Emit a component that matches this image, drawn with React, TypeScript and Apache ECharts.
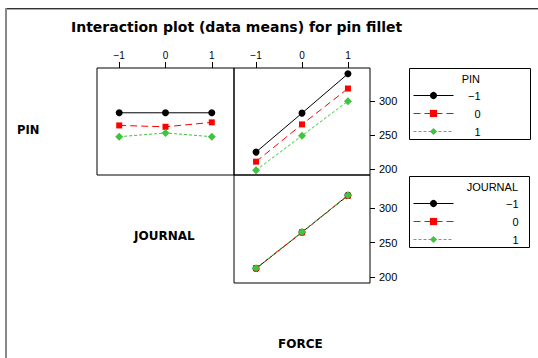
import React, { useEffect, useRef } from 'react';
import * as echarts from 'echarts';

const levels = [-1, 0, 1];
const levelNames = ['−1', '0', '1'];
const yTicks = [200, 250, 300];

// PIN means at each JOURNAL level
const pinM1ByJournal = [282.5, 282.5, 282.5];
const pin0ByJournal = [264, 262, 268.5];
const pin1ByJournal = [247.5, 253, 247.5];

// PIN means at each FORCE level
const pinM1ByForce = [225, 282, 339.5];
const pin0ByForce = [211, 265.5, 318];
const pin1ByForce = [198.5, 249, 299.5];

// JOURNAL means at each FORCE level
const journalM1ByForce = [212.5, 265, 318.5];
const journal0ByForce = [213, 265, 318];
const journal1ByForce = [213, 265.5, 318.5];

const FONT = 'Liberation Sans, Arial, Helvetica, sans-serif';
const BOLDFONT = 'DejaVu Sans, sans-serif';
const COLORS = ['#000000', '#ff0000', '#3ec43e'];
const DASHES: any[] = ['solid', [7, 4], [3, 2]];
const SYMBOLS = ['circle', 'rect', 'diamond'];
const SIZES = [7, 6, 8];

const fmt = (v: number) => (v < 0 ? '−' + Math.abs(v) : String(v));

function mkSeries(name: string, idx: number, vals: number[], axisIndex: number) {
  return {
    type: 'line',
    name,
    xAxisIndex: axisIndex,
    yAxisIndex: axisIndex,
    data: levels.map((x, i) => [x, vals[i]]),
    symbol: SYMBOLS[idx],
    symbolSize: SIZES[idx],
    showSymbol: true,
    lineStyle: { color: COLORS[idx], width: 1, type: DASHES[idx] },
    itemStyle: { color: COLORS[idx] },
    emphasis: { disabled: true },
    z: 2 + idx,
  };
}

export default function App() {
  const ref = useRef<HTMLDivElement>(null);
  useEffect(() => {
    if (!ref.current) return;
    const chart = echarts.init(ref.current, undefined, { renderer: 'svg' });
    const yMin = 191.5;
    const yMax = 348;
    const xAxisBase = (idx: number, showLabels: boolean) => ({
      type: 'value',
      gridIndex: idx,
      min: -1.48,
      max: 1.48,
      position: 'top',
      axisLine: { show: false, onZero: false },
      splitLine: { show: false },
      axisTick: {
        show: showLabels,
        customValues: levels,
        length: 6,
        lineStyle: { color: '#000' },
      },
      axisLabel: {
        show: showLabels,
        customValues: levels,
        formatter: fmt,
        margin: 8,
        color: '#000',
        fontSize: 10,
        fontFamily: FONT,
      },
    });
    const yAxisBase = (idx: number, show: boolean) => ({
      type: 'value',
      gridIndex: idx,
      min: yMin,
      max: yMax,
      position: 'right',
      axisLine: { show: false, onZero: false },
      splitLine: { show: false },
      axisTick: {
        show,
        customValues: yTicks,
        length: 5,
        lineStyle: { color: '#000' },
      },
      axisLabel: {
        show,
        customValues: yTicks,
        margin: 9,
        color: '#000',
        fontSize: 11,
        fontFamily: FONT,
      },
    });
    const legendBase = (top: number, width: number) => ({
      show: true,
      left: 413,
      top,
      orient: 'vertical',
      data: levelNames,
      selectedMode: false,
      itemWidth: 40,
      itemHeight: 9,
      itemGap: 7,
      padding: 0,
      lineStyle: { width: 1 },
      formatter: (n: string) => `{r|${n}}`,
      textStyle: {
        color: '#000',
        fontFamily: FONT,
        fontSize: 11,
        rich: { r: { width, align: 'right', fontSize: 11, lineHeight: 10, fontFamily: FONT } },
      },
    });
    const gridStyle = { show: true, borderColor: '#000', borderWidth: 1, backgroundColor: 'transparent' };
    chart.setOption({
      animation: false,
      backgroundColor: '#fff',
      title: {
        text: 'Interaction plot (data means) for pin fillet',
        left: 71,
        top: 20,
        padding: 0,
        textStyle: { fontSize: 14, fontWeight: 'bold', color: '#000', fontFamily: BOLDFONT },
      },
      grid: [
        { left: 97, top: 68, width: 137, height: 107, ...gridStyle },
        { left: 234, top: 68, width: 136, height: 107, ...gridStyle },
        { left: 234, top: 175, width: 136, height: 108, ...gridStyle },
      ],
      xAxis: [xAxisBase(0, true), xAxisBase(1, true), xAxisBase(2, false)],
      yAxis: [yAxisBase(0, false), yAxisBase(1, true), yAxisBase(2, true)],
      legend: [legendBase(90, 22), legendBase(198, 60)],
      series: [
        mkSeries(levelNames[0], 0, pinM1ByJournal, 0),
        mkSeries(levelNames[1], 1, pin0ByJournal, 0),
        mkSeries(levelNames[2], 2, pin1ByJournal, 0),
        mkSeries(levelNames[0], 0, pinM1ByForce, 1),
        mkSeries(levelNames[1], 1, pin0ByForce, 1),
        mkSeries(levelNames[2], 2, pin1ByForce, 1),
        mkSeries(levelNames[0], 0, journalM1ByForce, 2),
        mkSeries(levelNames[1], 1, journal0ByForce, 2),
        mkSeries(levelNames[2], 2, journal1ByForce, 2),
      ],
      graphic: [
        { type: 'line', shape: { x1: 5, y1: 8.5, x2: 538, y2: 8.5 }, style: { stroke: '#333', lineWidth: 1 }, silent: true },
        { type: 'line', shape: { x1: 5, y1: 9.5, x2: 538, y2: 9.5 }, style: { stroke: '#aaa', lineWidth: 1 }, silent: true },
        { type: 'line', shape: { x1: 6, y1: 8, x2: 6, y2: 358 }, style: { stroke: '#888', lineWidth: 2 }, silent: true },
        { type: 'rect', shape: { x: 409.5, y: 68.5, width: 121, height: 71 }, style: { fill: 'transparent', stroke: '#000', lineWidth: 1 }, silent: true },
        { type: 'rect', shape: { x: 409.5, y: 176.5, width: 120, height: 71 }, style: { fill: 'transparent', stroke: '#000', lineWidth: 1 }, silent: true },
        { type: 'text', x: 480, y: 78.5, style: { text: 'PIN', fill: '#000', font: `11px ${FONT}`, align: 'right', verticalAlign: 'middle' }, silent: true },
        { type: 'text', x: 518, y: 186.5, style: { text: 'JOURNAL', fill: '#000', font: `11px ${FONT}`, align: 'right', verticalAlign: 'middle' }, silent: true },
        { type: 'text', x: 17, y: 129.5, style: { text: 'PIN', fill: '#000', font: `bold 11.5px ${BOLDFONT}`, align: 'left', verticalAlign: 'middle' }, silent: true },
        { type: 'text', x: 134, y: 235.5, style: { text: 'JOURNAL', fill: '#000', font: `bold 12px ${BOLDFONT}`, align: 'left', verticalAlign: 'middle' }, silent: true },
        { type: 'text', x: 278, y: 343.5, style: { text: 'FORCE', fill: '#000', font: `bold 12px ${BOLDFONT}`, align: 'left', verticalAlign: 'middle' }, silent: true },
      ],
    });
    return () => chart.dispose();
  }, []);
  return (
    <div
      ref={ref}
      style={{ position: 'absolute', left: 0, top: 0, width: 538, height: 358 }}
    />
  );
}
